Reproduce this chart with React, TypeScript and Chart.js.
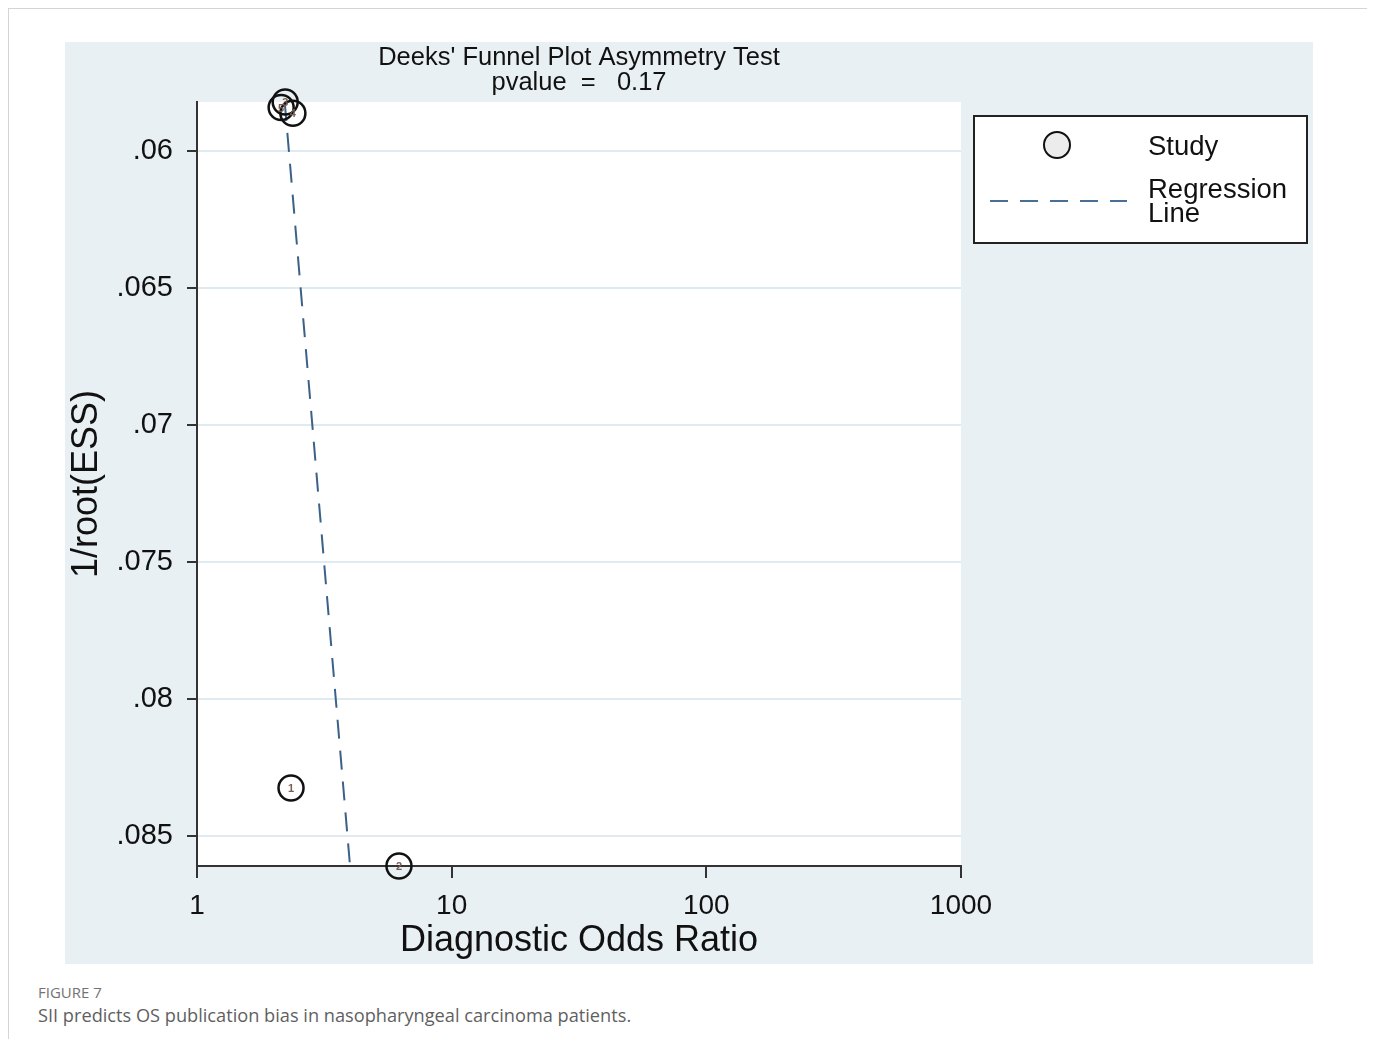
import React, { useEffect, useRef } from "react";
import { Chart, registerables } from "chart.js";

Chart.register(...registerables);

// Study estimates: diagnostic odds ratio vs 1/sqrt(effective sample size)
const studyIds = ["1", "2", "3", "4", "5"];
const studyDOR = [2.34, 6.21, 2.22, 2.38, 2.14];
const studyInvRootESS = [0.08325, 0.0861, 0.0582, 0.05861, 0.0584];

// Fitted regression line endpoints
const regressionDOR = [2.21, 3.99];
const regressionInvRootESS = [0.0582, 0.0861];

// Axis ticks
const xTickValues = [1, 10, 100, 1000];
const xTickLabels = ["1", "10", "100", "1000"];
const yTickValues = [0.06, 0.065, 0.07, 0.075, 0.08, 0.085];
const yTickLabels = [".06", ".065", ".07", ".075", ".08", ".085"];

const titleLines = ["Deeks' Funnel Plot Asymmetry Test", "pvalue  =   0.17"];
const legendStudy = "Study";
const legendRegression = ["Regression", "Line"];

const CANVAS_W = 1248;
const CANVAS_H = 922;
const BG = "#e9f0f3";
const FONT = "Arial, 'Liberation Sans', sans-serif";

const decorations = {
  id: "deeksDecorations",
  beforeDraw(chart: any) {
    const { ctx, chartArea } = chart;
    ctx.save();
    ctx.fillStyle = BG;
    ctx.fillRect(0, 0, chart.width, chart.height);
    ctx.fillStyle = "#ffffff";
    ctx.fillRect(chartArea.left, chartArea.top, chartArea.right - chartArea.left, chartArea.bottom - chartArea.top);
    ctx.restore();
  },
  afterDatasetsDraw(chart: any) {
    const { ctx } = chart;
    const meta = chart.getDatasetMeta(0);
    ctx.save();
    ctx.font = `bold 11px ${FONT}`;
    ctx.fillStyle = "#7a5e52";
    ctx.textAlign = "center";
    ctx.textBaseline = "middle";
    meta.data.forEach((pt: any, i: number) => {
      ctx.fillText(studyIds[i], pt.x, pt.y + 1);
    });
    ctx.restore();
  },
  afterDraw(chart: any) {
    const { ctx, chartArea } = chart;
    ctx.save();
    // title
    const cx = (chartArea.left + chartArea.right) / 2;
    ctx.fillStyle = "#111";
    ctx.textAlign = "center";
    ctx.textBaseline = "middle";
    ctx.font = `25.5px ${FONT}`;
    ctx.fillText(titleLines[0], cx, 16);
    ctx.fillText(titleLines[1], cx, 41);

    // legend box
    const lx = 909, ly = 74, lw = 333, lh = 127;
    ctx.fillStyle = "#ffffff";
    ctx.fillRect(lx, ly, lw, lh);
    ctx.strokeStyle = "#222";
    ctx.lineWidth = 2;
    ctx.strokeRect(lx, ly, lw, lh);

    ctx.beginPath();
    ctx.arc(992, 103, 13, 0, Math.PI * 2);
    ctx.fillStyle = "#ececec";
    ctx.fill();
    ctx.lineWidth = 2;
    ctx.strokeStyle = "#111";
    ctx.stroke();

    ctx.beginPath();
    ctx.setLineDash([18, 12]);
    ctx.strokeStyle = "#4a6f94";
    ctx.lineWidth = 2;
    ctx.moveTo(925, 159);
    ctx.lineTo(1062, 159);
    ctx.stroke();
    ctx.setLineDash([]);

    ctx.fillStyle = "#111";
    ctx.textAlign = "left";
    ctx.font = `27.5px ${FONT}`;
    ctx.fillText(legendStudy, 1083, 105);
    ctx.fillText(legendRegression[0], 1083, 148);
    ctx.fillText(legendRegression[1], 1083, 172);
    ctx.restore();
  },
};

function DeeksChart() {
  const ref = useRef<HTMLCanvasElement | null>(null);
  useEffect(() => {
    if (!ref.current) return;
    const chart = new Chart(ref.current, {
      type: "scatter",
      data: {
        datasets: [
          {
            label: legendStudy,
            data: studyDOR.map((x, i) => ({ x, y: studyInvRootESS[i] })),
            pointRadius: 12.5,
            pointHoverRadius: 12.5,
            pointBorderWidth: 2.5,
            borderColor: "#111",
            backgroundColor: "rgba(0,0,0,0)",
            clip: false as any,
            order: 0,
          },
          {
            type: "line" as any,
            label: legendRegression.join(" "),
            data: regressionDOR.map((x, i) => ({ x, y: regressionInvRootESS[i] })),
            borderColor: "#3b6189",
            borderWidth: 2,
            borderDash: [19, 12],
            pointRadius: 0,
            fill: false,
            order: 1,
          } as any,
        ],
      },
      options: {
        responsive: false,
        animation: false,
        layout: { padding: { left: 0, top: 60, right: 352, bottom: 0 } },
        plugins: {
          legend: { display: false },
          title: { display: false },
          tooltip: { enabled: false },
        },
        scales: {
          x: {
            type: "logarithmic",
            min: 1,
            max: 1000,
            afterBuildTicks: (scale: any) => {
              scale.ticks = xTickValues.map((v) => ({ value: v }));
            },
            afterFit: (scale: any) => {
              scale.height = 98;
            },
            grid: {
              drawOnChartArea: false,
              drawTicks: true,
              tickLength: 12,
              color: "#333",
              tickColor: "#333",
              lineWidth: 2,
            },
            border: { color: "#333", width: 2 },
            ticks: {
              autoSkip: false,
              maxRotation: 0,
              padding: 11,
              color: "#111",
              font: { size: 28, family: FONT },
              callback: (v: any) => {
                const i = xTickValues.indexOf(Number(v));
                return i >= 0 ? xTickLabels[i] : "";
              },
            },
            title: {
              display: true,
              text: "Diagnostic Odds Ratio",
              color: "#111",
              font: { size: 36, family: FONT },
              padding: { top: 0, bottom: 1 },
            },
          },
          y: {
            type: "linear",
            reverse: true,
            min: 0.0582,
            max: 0.0861,
            afterBuildTicks: (scale: any) => {
              scale.ticks = yTickValues.map((v) => ({ value: v }));
            },
            afterFit: (scale: any) => {
              scale.width = 132;
            },
            grid: {
              color: "#e0ebf1",
              tickColor: "#333",
              lineWidth: 2,
              tickLength: 10,
            },
            border: { color: "#333", width: 2 },
            ticks: {
              autoSkip: false,
              padding: 14,
              color: "#111",
              font: { size: 29, family: FONT },
              callback: (v: any) => {
                const i = yTickValues.findIndex((t) => Math.abs(t - Number(v)) < 1e-9);
                return i >= 0 ? yTickLabels[i] : "";
              },
            },
            title: {
              display: true,
              text: "1/root(ESS)",
              color: "#111",
              font: { size: 36, family: FONT },
              padding: { top: 0, bottom: 0 },
            },
          },
        },
      },
      plugins: [decorations],
    });
    return () => chart.destroy();
  }, []);
  return <canvas ref={ref} width={CANVAS_W} height={CANVAS_H} style={{ display: "block" }} />;
}

export default function App() {
  return (
    <div
      style={{
        position: "relative",
        width: 1359,
        height: 1030,
        borderLeft: "1px solid #d4d4d4",
        borderRight: "1px solid #d4d4d4",
        borderTop: "1px solid #d4d4d4",
        background: "#ffffff",
      }}
    >
      <div style={{ position: "absolute", left: 56, top: 33 }}>
        <DeeksChart />
      </div>
      <div
        style={{
          position: "absolute",
          left: 29,
          top: 973,
          fontFamily: "'Open Sans', sans-serif",
          fontSize: 15,
          color: "#737373",
          lineHeight: "20px",
        }}
      >
        FIGURE 7
      </div>
      <div
        style={{
          position: "absolute",
          left: 29,
          top: 993,
          fontFamily: "'Open Sans', sans-serif",
          fontSize: 18.2,
          color: "#5f5f5f",
          lineHeight: "26px",
        }}
      >
        SII predicts OS publication bias in nasopharyngeal carcinoma patients.
      </div>
    </div>
  );
}
